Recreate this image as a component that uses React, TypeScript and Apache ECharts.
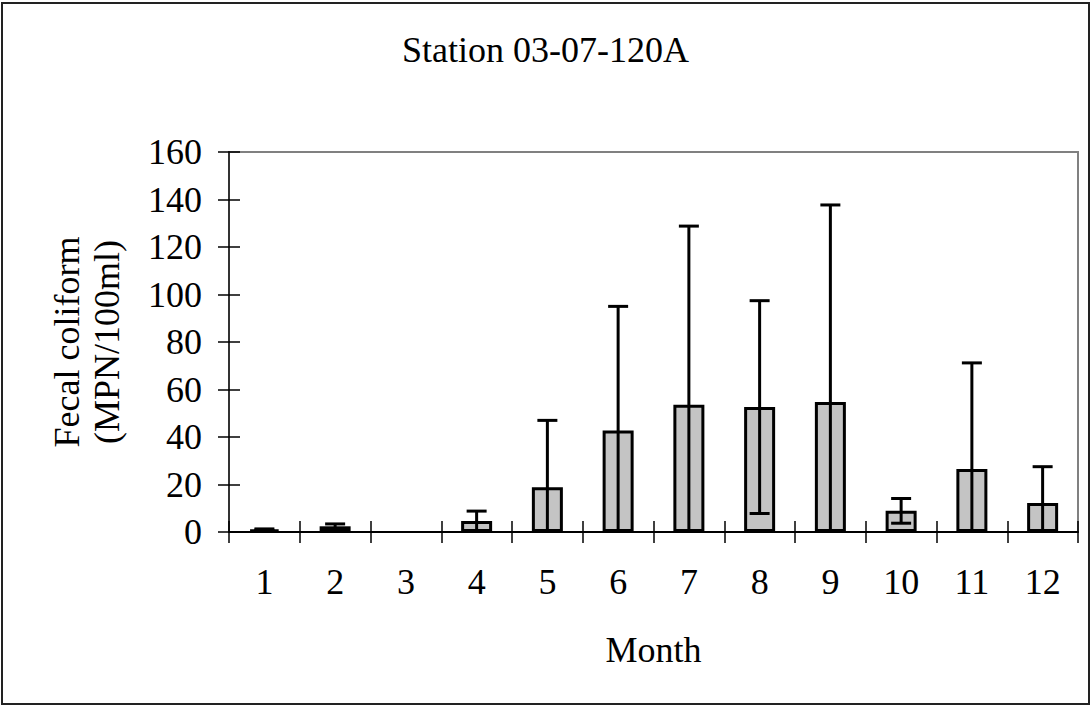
import React, { useEffect, useRef } from "react";
import * as echarts from "echarts";

const months = ["1", "2", "3", "4", "5", "6", "7", "8", "9", "10", "11", "12"];
const meanValues = [1.0, 2.4, 0, 4.6, 18.8, 42.7, 53.6, 52.6, 54.7, 8.9, 26.5, 12.2];
const sdValues = [0.3, 1.0, 0, 4.2, 28.2, 52.3, 75.2, 44.8, 83.0, 5.2, 44.7, 15.3];
const yTicks = { min: 0, max: 160, interval: 20 };

const FONT = "'Liberation Serif', 'Times New Roman', serif";

export default function App() {
  const ref = useRef<HTMLDivElement>(null);
  useEffect(() => {
    if (!ref.current) return;
    const chart = echarts.init(ref.current, undefined, { renderer: "svg" });
    const errData = months.map((m, i) => [i, meanValues[i], sdValues[i]]);
    const option: any = {
      animation: false,
      backgroundColor: "#fff",
      textStyle: { fontFamily: FONT },
      title: {
        text: "Station 03-07-120A",
        left: "center",
        top: 27,
        textStyle: { fontFamily: FONT, fontSize: 36, fontWeight: "normal", color: "#000" },
      },
      grid: {
        left: 229,
        top: 152,
        right: 13,
        bottom: 174,
        show: true,
        borderColor: "#808080",
        borderWidth: 2,
        backgroundColor: "#fff",
      },
      graphic: [
        {
          type: "rect",
          shape: { x: 2, y: 3, width: 1087, height: 701 },
          style: { fill: "none", stroke: "#222", lineWidth: 2 },
          z: 100,
          silent: true,
        },
      ],
      xAxis: [
        {
          type: "category",
          data: months,
          position: "bottom",
          offset: 0,
          name: "Month",
          nameLocation: "middle",
          nameGap: 100,
          nameTextStyle: { fontFamily: FONT, fontSize: 36, color: "#000" },
          axisLine: { show: true, lineStyle: { color: "#000", width: 2 } },
          axisTick: { show: true, inside: false, length: 11, lineStyle: { color: "#000", width: 1.5 } },
          axisLabel: { fontFamily: FONT, fontSize: 36, color: "#000", margin: 32 },
          splitLine: { show: false },
          z: 10,
        },
        {
          type: "category",
          data: months,
          position: "bottom",
          offset: 0,
          axisLine: { show: false },
          axisTick: { show: true, inside: true, length: 11, lineStyle: { color: "#000", width: 1.5 } },
          axisLabel: { show: false },
          splitLine: { show: false },
          z: 10,
        },
      ],
      yAxis: [
        {
          type: "value",
          min: yTicks.min,
          max: yTicks.max,
          interval: yTicks.interval,
          position: "left",
          offset: 0,
          name: "Fecal coliform\n(MPN/100ml)",
          nameLocation: "middle",
          nameGap: 102,
          nameRotate: 90,
          nameTextStyle: { fontFamily: FONT, fontSize: 36, color: "#000", lineHeight: 40 },
          axisLine: { show: true, lineStyle: { color: "#333", width: 2 } },
          axisTick: { show: true, inside: false, length: 11, lineStyle: { color: "#000", width: 1.5 } },
          axisLabel: { fontFamily: FONT, fontSize: 36, color: "#000", margin: 27 },
          splitLine: { show: false },
          z: 10,
        },
        {
          type: "value",
          min: yTicks.min,
          max: yTicks.max,
          interval: yTicks.interval,
          position: "left",
          offset: 0,
          axisLine: { show: false },
          axisTick: { show: true, inside: true, length: 11, lineStyle: { color: "#000", width: 1.5 } },
          axisLabel: { show: false },
          splitLine: { show: false },
          z: 10,
        },
      ],
      series: [
        {
          type: "bar",
          xAxisIndex: 0,
          yAxisIndex: 0,
          barWidth: 31,
          data: meanValues.map((v) =>
            v === 0 ? { value: v, itemStyle: { borderWidth: 0 } } : { value: v }
          ),
          itemStyle: { color: "#c4c4c4", borderColor: "#000", borderWidth: 3 },
          z: 2,
        },
        {
          type: "custom",
          xAxisIndex: 0,
          yAxisIndex: 0,
          data: errData,
          z: 5,
          renderItem: (params: any, api: any) => {
            const idx = api.value(0);
            const mean = api.value(1);
            const sd = api.value(2);
            if (!sd) return null;
            const hi = mean + sd;
            const lo = Math.max(0, mean - sd);
            const pHi = api.coord([idx, hi]);
            const pLo = api.coord([idx, lo]);
            const half = 10;
            const style = { stroke: "#000", lineWidth: 3 };
            const children: any[] = [
              { type: "line", shape: { x1: pHi[0], y1: pHi[1], x2: pLo[0], y2: pLo[1] }, style },
              { type: "line", shape: { x1: pHi[0] - half, y1: pHi[1], x2: pHi[0] + half, y2: pHi[1] }, style },
            ];
            if (mean - sd > 0) {
              children.push({
                type: "line",
                shape: { x1: pLo[0] - half, y1: pLo[1], x2: pLo[0] + half, y2: pLo[1] },
                style,
              });
            }
            return { type: "group", children };
          },
        },
      ],
    };
    chart.setOption(option);
    return () => chart.dispose();
  }, []);
  return (
    <div
      ref={ref}
      style={{ position: "absolute", left: 0, top: 0, width: 1091, height: 706 }}
    />
  );
}
